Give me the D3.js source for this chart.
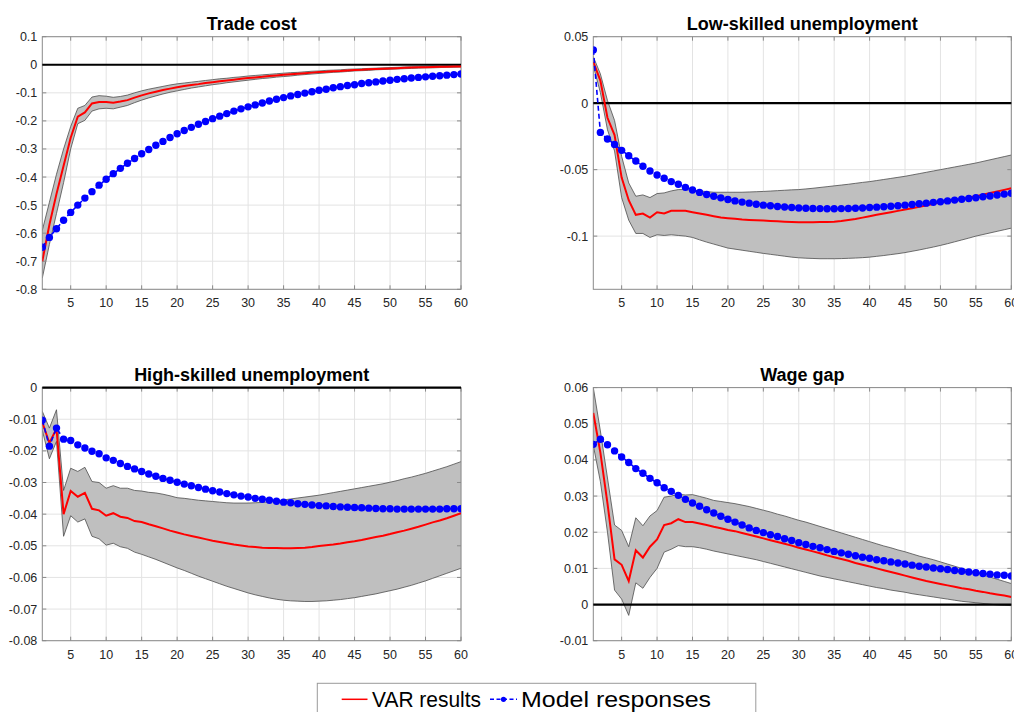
<!DOCTYPE html>
<html>
<head>
<meta charset="utf-8">
<script src="https://cdn.jsdelivr.net/npm/d3@7"></script>
<style>
body { margin: 0; background: #fff; }
text { font-family: "Liberation Sans", Arial, Helvetica, sans-serif; }
</style>
</head>
<body>
<svg id="fig" width="1014" height="712"></svg>
<script>
var periods = d3.range(1, 61);
var xTicks = [5, 10, 15, 20, 25, 30, 35, 40, 45, 50, 55, 60];

// Trade cost
var tradeTicks = [-0.8, -0.7, -0.6, -0.5, -0.4, -0.3, -0.2, -0.1, 0, 0.1];
var tradeVar = [-0.70, -0.57, -0.46, -0.36, -0.26, -0.185, -0.17, -0.138, -0.133, -0.133,
    -0.135, -0.131, -0.126, -0.117, -0.109, -0.102, -0.096, -0.090, -0.085, -0.080,
    -0.076, -0.072, -0.069, -0.065, -0.062, -0.059, -0.056, -0.053, -0.050, -0.047,
    -0.045, -0.043, -0.040, -0.038, -0.036, -0.034, -0.032, -0.030, -0.028, -0.026,
    -0.025, -0.023, -0.022, -0.020, -0.019, -0.018, -0.016, -0.015, -0.014, -0.013,
    -0.012, -0.011, -0.010, -0.009, -0.009, -0.008, -0.007, -0.007, -0.006, -0.006];
var tradeUpper = [-0.59, -0.49, -0.39, -0.30, -0.22, -0.155, -0.145, -0.115, -0.110, -0.112,
    -0.116, -0.113, -0.108, -0.100, -0.093, -0.087, -0.082, -0.077, -0.072, -0.068,
    -0.065, -0.062, -0.059, -0.056, -0.053, -0.050, -0.048, -0.045, -0.043, -0.040,
    -0.038, -0.036, -0.034, -0.032, -0.030, -0.028, -0.027, -0.025, -0.023, -0.022,
    -0.020, -0.019, -0.018, -0.016, -0.015, -0.014, -0.013, -0.012, -0.011, -0.010,
    -0.009, -0.008, -0.007, -0.007, -0.006, -0.005, -0.005, -0.004, -0.004, -0.003];
var tradeLower = [-0.76, -0.64, -0.53, -0.42, -0.30, -0.21, -0.198, -0.165, -0.157, -0.155,
    -0.157, -0.151, -0.145, -0.135, -0.126, -0.118, -0.111, -0.104, -0.098, -0.093,
    -0.088, -0.083, -0.079, -0.075, -0.071, -0.068, -0.064, -0.061, -0.058, -0.055,
    -0.052, -0.049, -0.047, -0.044, -0.042, -0.040, -0.037, -0.035, -0.033, -0.031,
    -0.029, -0.027, -0.026, -0.024, -0.022, -0.021, -0.020, -0.018, -0.017, -0.016,
    -0.015, -0.014, -0.013, -0.012, -0.011, -0.011, -0.010, -0.009, -0.009, -0.008];
var tradeModel = [-0.650, -0.615, -0.584, -0.554, -0.526, -0.500, -0.475, -0.452, -0.429, -0.408,
    -0.388, -0.369, -0.351, -0.334, -0.317, -0.302, -0.287, -0.273, -0.259, -0.246,
    -0.234, -0.223, -0.212, -0.202, -0.192, -0.183, -0.174, -0.165, -0.157, -0.150,
    -0.143, -0.136, -0.129, -0.123, -0.117, -0.111, -0.106, -0.101, -0.096, -0.091,
    -0.087, -0.082, -0.078, -0.074, -0.071, -0.067, -0.064, -0.061, -0.058, -0.055,
    -0.052, -0.050, -0.047, -0.045, -0.043, -0.041, -0.039, -0.037, -0.035, -0.033];

// Low-skilled unemployment
var lowTicks = [-0.1, -0.05, 0, 0.05];
var lowVar = [0.031, 0.017, -0.011, -0.024, -0.056, -0.073, -0.084, -0.083, -0.086, -0.082,
    -0.083, -0.081, -0.081, -0.081, -0.082, -0.083, -0.084, -0.085, -0.086, -0.0865,
    -0.087, -0.0875, -0.0878, -0.088, -0.0883, -0.0886, -0.0889, -0.0892, -0.0894, -0.0895,
    -0.0895, -0.0895, -0.0894, -0.0893, -0.0891, -0.0886, -0.0879, -0.0871, -0.0861, -0.085,
    -0.084, -0.083, -0.082, -0.081, -0.080, -0.079, -0.078, -0.077, -0.0757, -0.0745,
    -0.0737, -0.0728, -0.072, -0.071, -0.070, -0.0688, -0.0676, -0.0664, -0.0652, -0.064];
var lowUpper = [0.035, 0.022, 0.002, -0.013, -0.040, -0.060, -0.070, -0.069, -0.071, -0.068,
    -0.0675, -0.066, -0.065, -0.065, -0.0655, -0.066, -0.0665, -0.067, -0.067, -0.067,
    -0.067, -0.067, -0.0668, -0.0666, -0.0664, -0.0661, -0.0658, -0.0655, -0.0652, -0.065,
    -0.0645, -0.064, -0.0634, -0.0628, -0.0622, -0.0616, -0.061, -0.0603, -0.0596, -0.059,
    -0.0582, -0.0574, -0.0566, -0.0558, -0.055, -0.054, -0.053, -0.052, -0.051, -0.050,
    -0.049, -0.048, -0.047, -0.046, -0.045, -0.0438, -0.0426, -0.0414, -0.0402, -0.039];
var lowLower = [0.028, 0.008, -0.020, -0.036, -0.071, -0.088, -0.098, -0.098, -0.101, -0.099,
    -0.0995, -0.099, -0.0995, -0.100, -0.101, -0.1028, -0.1045, -0.106, -0.1075, -0.109,
    -0.1098, -0.1106, -0.1114, -0.1122, -0.113, -0.1137, -0.1144, -0.1151, -0.1158, -0.1163,
    -0.1166, -0.1168, -0.117, -0.117, -0.117, -0.1169, -0.1167, -0.1165, -0.1162, -0.1158,
    -0.1152, -0.1146, -0.1139, -0.1132, -0.1124, -0.1114, -0.1104, -0.1093, -0.1082, -0.107,
    -0.1057, -0.1043, -0.1029, -0.1015, -0.100, -0.0988, -0.0976, -0.0964, -0.0952, -0.094];
var lowModel = [0.040, -0.022, -0.027, -0.031, -0.0355, -0.0395, -0.0435, -0.0475, -0.051, -0.054,
    -0.0565, -0.059, -0.061, -0.0633, -0.0653, -0.0671, -0.0687, -0.070, -0.0712, -0.0724,
    -0.0735, -0.0744, -0.0752, -0.076, -0.0767, -0.0772, -0.0777, -0.0781, -0.0785, -0.0788,
    -0.079, -0.0792, -0.0793, -0.0794, -0.0794, -0.0793, -0.0792, -0.079, -0.0788, -0.0785,
    -0.0782, -0.0779, -0.0775, -0.0771, -0.0767, -0.0762, -0.0757, -0.0752, -0.0746, -0.0741,
    -0.0735, -0.0729, -0.0723, -0.0717, -0.0711, -0.0704, -0.0698, -0.0691, -0.0684, -0.0677];

// High-skilled unemployment
var highTicks = [-0.08, -0.07, -0.06, -0.05, -0.04, -0.03, -0.02, -0.01, 0];
var highVar = [-0.011, -0.0175, -0.013, -0.040, -0.0327, -0.0345, -0.0333, -0.0383, -0.0388, -0.0405,
    -0.0397, -0.0408, -0.0412, -0.0422, -0.0425, -0.0432, -0.0438, -0.0445, -0.0452, -0.0458,
    -0.0464, -0.0469, -0.0474, -0.0479, -0.0484, -0.0488, -0.0492, -0.0496, -0.0499, -0.0502,
    -0.0504, -0.0506, -0.0507, -0.0507, -0.0508, -0.0508, -0.0507, -0.0506, -0.0504, -0.0501,
    -0.0498, -0.0496, -0.0493, -0.0489, -0.0486, -0.0482, -0.0477, -0.0472, -0.0468, -0.0463,
    -0.0457, -0.0452, -0.0446, -0.044, -0.0433, -0.0426, -0.042, -0.0413, -0.0405, -0.0397];
var highUpper = [-0.0075, -0.0128, -0.007, -0.0325, -0.0255, -0.0265, -0.0252, -0.0297, -0.030, -0.0318,
    -0.031, -0.0318, -0.0318, -0.0325, -0.0327, -0.0331, -0.0333, -0.0337, -0.0342, -0.0348,
    -0.035, -0.0353, -0.0356, -0.0358, -0.036, -0.0362, -0.0364, -0.0365, -0.0365, -0.0365,
    -0.0364, -0.0363, -0.0361, -0.0358, -0.0355, -0.0352, -0.0349, -0.0346, -0.0343, -0.034,
    -0.0336, -0.0332, -0.0328, -0.0324, -0.032, -0.0316, -0.0312, -0.0308, -0.0304, -0.0299,
    -0.0294, -0.0288, -0.0283, -0.0277, -0.0271, -0.0264, -0.0257, -0.025, -0.0242, -0.0234];
var highLower = [-0.0135, -0.0225, -0.017, -0.047, -0.0405, -0.0425, -0.0415, -0.047, -0.0478, -0.0498,
    -0.0492, -0.0503, -0.0508, -0.052, -0.0527, -0.0535, -0.0543, -0.0552, -0.0561, -0.057,
    -0.0578, -0.0587, -0.0596, -0.0604, -0.0612, -0.062, -0.0628, -0.0635, -0.0642, -0.0649,
    -0.0655, -0.066, -0.0665, -0.0669, -0.0672, -0.0674, -0.0675, -0.0676, -0.0676, -0.0675,
    -0.0674, -0.0672, -0.067, -0.0667, -0.0664, -0.066, -0.0656, -0.0652, -0.0647, -0.0642,
    -0.0637, -0.0631, -0.0625, -0.0618, -0.0611, -0.0603, -0.0595, -0.0587, -0.0579, -0.0571];
var highModel = [-0.0103, -0.0185, -0.0128, -0.0163, -0.0167, -0.0181, -0.0191, -0.0201, -0.0209, -0.0222,
    -0.023, -0.024, -0.0249, -0.0257, -0.0265, -0.0273, -0.028, -0.0287, -0.0293, -0.0299,
    -0.0305, -0.031, -0.0316, -0.0321, -0.0326, -0.033, -0.0335, -0.0339, -0.0343, -0.0346,
    -0.035, -0.0353, -0.0356, -0.0359, -0.0362, -0.0364, -0.0367, -0.0369, -0.0371, -0.0373,
    -0.0374, -0.0376, -0.0377, -0.0378, -0.0379, -0.038, -0.0381, -0.0382, -0.0383, -0.0383,
    -0.0384, -0.0384, -0.0384, -0.0384, -0.0384, -0.0384, -0.0384, -0.0383, -0.0383, -0.0383];

// Wage gap
var wageTicks = [-0.01, 0, 0.01, 0.02, 0.03, 0.04, 0.05, 0.06];
var wageVar = [0.053, 0.042, 0.028, 0.0125, 0.011, 0.0065, 0.015, 0.013, 0.016, 0.018,
    0.022, 0.0225, 0.0236, 0.0228, 0.0228, 0.0224, 0.022, 0.0215, 0.0211, 0.0206,
    0.0203, 0.0198, 0.0193, 0.0188, 0.0183, 0.0178, 0.0173, 0.0168, 0.0163, 0.0157,
    0.0152, 0.0147, 0.0142, 0.0136, 0.0131, 0.0126, 0.0121, 0.0115, 0.011, 0.0105,
    0.010, 0.0095, 0.009, 0.0085, 0.008, 0.0075, 0.007, 0.0065, 0.0061, 0.0057,
    0.0053, 0.0049, 0.0045, 0.0042, 0.0038, 0.0035, 0.0031, 0.0028, 0.0025, 0.0021];
var wageUpper = [0.060, 0.048, 0.035, 0.022, 0.0205, 0.016, 0.024, 0.0218, 0.0245, 0.026,
    0.0297, 0.030, 0.0305, 0.0303, 0.0304, 0.0299, 0.0294, 0.0288, 0.0285, 0.0282,
    0.0279, 0.0275, 0.0271, 0.0266, 0.0261, 0.0256, 0.025, 0.0245, 0.0239, 0.0233,
    0.0228, 0.0222, 0.0216, 0.021, 0.0204, 0.0198, 0.0192, 0.0186, 0.018, 0.0174,
    0.0168, 0.0162, 0.0157, 0.0151, 0.0146, 0.014, 0.0134, 0.0129, 0.0124, 0.0118,
    0.0112, 0.0106, 0.010, 0.0094, 0.0088, 0.0082, 0.0076, 0.007, 0.0064, 0.0058];
var wageLower = [0.044, 0.034, 0.020, 0.004, 0.0015, -0.003, 0.006, 0.0045, 0.0075, 0.010,
    0.0145, 0.0153, 0.0163, 0.016, 0.016, 0.0157, 0.0153, 0.0148, 0.0144, 0.014,
    0.0136, 0.0132, 0.0128, 0.0124, 0.0119, 0.0114, 0.0109, 0.0104, 0.0099, 0.0094,
    0.0089, 0.0084, 0.0079, 0.0075, 0.0071, 0.0067, 0.0063, 0.0059, 0.0055, 0.0051,
    0.0047, 0.0044, 0.004, 0.0037, 0.0034, 0.003, 0.0027, 0.0024, 0.0021, 0.0018,
    0.0015, 0.0012, 0.0009, 0.0007, 0.0005, 0.0003, 0.0001, -0.0001, -0.0002, -0.0003];
var wageModel = [0.0443, 0.0457, 0.0442, 0.0425, 0.0408, 0.0393, 0.0376, 0.0363, 0.0349, 0.0337,
    0.0323, 0.0313, 0.0302, 0.0291, 0.0281, 0.0272, 0.0262, 0.0253, 0.0244, 0.0236,
    0.0228, 0.022, 0.0212, 0.0205, 0.0199, 0.0193, 0.0188, 0.0182, 0.0177, 0.0171,
    0.0166, 0.0161, 0.0157, 0.0152, 0.0147, 0.0143, 0.0139, 0.0135, 0.0131, 0.0128,
    0.0124, 0.0121, 0.0118, 0.0115, 0.0112, 0.0109, 0.0106, 0.0104, 0.0101, 0.0099,
    0.0097, 0.0094, 0.0092, 0.009, 0.0088, 0.0086, 0.0084, 0.0082, 0.0081, 0.0079];

var legendLabels = ["VAR results", "Model responses"];

var panels = [
    {id: "p1", title: "Trade cost", varResp: tradeVar, upper: tradeUpper, lower: tradeLower, model: tradeModel,
        yDomain: [-0.8, 0.1], yTicks: tradeTicks, left: 42.3, right: 461, top: 36.7, bottom: 289.3},
    {id: "p2", title: "Low-skilled unemployment", varResp: lowVar, upper: lowUpper, lower: lowLower, model: lowModel,
        yDomain: [-0.14, 0.05], yTicks: lowTicks, left: 593.3, right: 1011.3, top: 36.7, bottom: 289.3},
    {id: "p3", title: "High-skilled unemployment", varResp: highVar, upper: highUpper, lower: highLower, model: highModel,
        yDomain: [-0.08, 0], yTicks: highTicks, left: 42.3, right: 461, top: 387.6, bottom: 640.7},
    {id: "p4", title: "Wage gap", varResp: wageVar, upper: wageUpper, lower: wageLower, model: wageModel,
        yDomain: [-0.01, 0.06], yTicks: wageTicks, left: 593.3, right: 1011.3, top: 387.6, bottom: 640.7}
];

var svg = d3.select("#fig");

function fmtTick(v) {
    if (Math.abs(v) < 1e-9) return "0";
    return String(+v.toFixed(3));
}

function drawPanel(p) {
    var x = d3.scaleLinear().domain([1, 60]).range([p.left, p.right]);
    var y = d3.scaleLinear().domain(p.yDomain).range([p.bottom, p.top]);
    var g = svg.append("g").attr("id", p.id);

    g.append("clipPath").attr("id", "clip_" + p.id)
        .append("rect")
        .attr("x", p.left).attr("y", p.top - 1)
        .attr("width", p.right - p.left).attr("height", p.bottom - p.top + 2);

    //grid
    g.selectAll(".gx").data(xTicks).enter().append("line")
        .attr("x1", d => x(d)).attr("x2", d => x(d))
        .attr("y1", p.top).attr("y2", p.bottom)
        .attr("stroke", "#e3e3e3").attr("stroke-width", 1);
    g.selectAll(".gy").data(p.yTicks).enter().append("line")
        .attr("x1", p.left).attr("x2", p.right)
        .attr("y1", d => y(d)).attr("y2", d => y(d))
        .attr("stroke", "#e3e3e3").attr("stroke-width", 1);

    var plot = g.append("g").attr("clip-path", "url(#clip_" + p.id + ")");

    // confidence band
    var area = d3.area()
        .x((d, i) => x(periods[i]))
        .y0((d, i) => y(p.lower[i]))
        .y1((d, i) => y(p.upper[i]));
    plot.append("path").datum(periods).attr("d", area)
        .attr("fill", "#bfbfbf").attr("stroke", "none");

    var edge = d3.line().x((d, i) => x(periods[i])).y(d => y(d));
    plot.append("path").datum(p.upper).attr("d", edge)
        .attr("fill", "none").attr("stroke", "#4d4d4d").attr("stroke-width", 0.8);
    plot.append("path").datum(p.lower).attr("d", edge)
        .attr("fill", "none").attr("stroke", "#4d4d4d").attr("stroke-width", 0.8);

    // box + inward ticks
    g.append("rect")
        .attr("x", p.left).attr("y", p.top)
        .attr("width", p.right - p.left).attr("height", p.bottom - p.top)
        .attr("fill", "none").attr("stroke", "#8a8a8a").attr("stroke-width", 1);
    var tl = 4;
    xTicks.forEach(function(t) {
        g.append("line").attr("x1", x(t)).attr("x2", x(t)).attr("y1", p.bottom).attr("y2", p.bottom - tl)
            .attr("stroke", "#8a8a8a");
        g.append("line").attr("x1", x(t)).attr("x2", x(t)).attr("y1", p.top).attr("y2", p.top + tl)
            .attr("stroke", "#8a8a8a");
    });
    p.yTicks.forEach(function(t) {
        g.append("line").attr("x1", p.left).attr("x2", p.left + tl).attr("y1", y(t)).attr("y2", y(t))
            .attr("stroke", "#8a8a8a");
        g.append("line").attr("x1", p.right).attr("x2", p.right - tl).attr("y1", y(t)).attr("y2", y(t))
            .attr("stroke", "#8a8a8a");
    });

    // zero line (drawn over the box so it stays black on the top edge)
    g.append("line")
        .attr("x1", x(1)).attr("x2", x(60))
        .attr("y1", y(0)).attr("y2", y(0))
        .attr("stroke", "#000").attr("stroke-width", 2.2);

    var marks = g.append("g").attr("clip-path", "url(#clip_" + p.id + ")");
    marks.append("path").datum(p.varResp).attr("d", edge)
        .attr("fill", "none").attr("stroke", "#ff0000").attr("stroke-width", 2);

    marks.append("path").datum(p.model).attr("d", edge)
        .attr("fill", "none").attr("stroke", "#0000ff").attr("stroke-width", 1.6)
        .attr("stroke-dasharray", "5,3");
    marks.selectAll(".dot").data(p.model).enter().append("circle")
        .attr("cx", (d, i) => x(periods[i])).attr("cy", d => y(d))
        .attr("r", 3.7).attr("fill", "#0000ff");

    // tick labels
    g.selectAll(".xl").data(xTicks).enter().append("text")
        .attr("x", d => x(d)).attr("y", p.bottom + 18)
        .attr("text-anchor", "middle").attr("font-size", 12.5).attr("fill", "#262626")
        .text(d => d);
    g.selectAll(".yl").data(p.yTicks).enter().append("text")
        .attr("x", p.left - 5).attr("y", d => y(d)).attr("dy", "0.36em")
        .attr("text-anchor", "end").attr("font-size", 12.5).attr("fill", "#262626")
        .text(d => fmtTick(d));

    // title
    g.append("text")
        .attr("x", (p.left + p.right) / 2).attr("y", p.top - 7)
        .attr("text-anchor", "middle").attr("font-size", 18).attr("font-weight", "bold")
        .attr("fill", "#000")
        .text(p.title);
}

panels.forEach(drawPanel);

// legend
var leg = svg.append("g").attr("id", "legend");
leg.append("rect").attr("x", 317.3).attr("y", 683.3).attr("width", 438.5).attr("height", 40)
    .attr("fill", "#fff").attr("stroke", "#9a9a9a").attr("stroke-width", 1);
leg.append("line").attr("x1", 341.7).attr("x2", 367.5).attr("y1", 699.3).attr("y2", 699.3)
    .attr("stroke", "#ff0000").attr("stroke-width", 1.5);
leg.append("text").attr("x", 372).attr("y", 706.5).attr("font-size", 22)
    .attr("textLength", 109).attr("lengthAdjust", "spacingAndGlyphs")
    .attr("fill", "#000").text(legendLabels[0]);
leg.append("line").attr("x1", 490).attr("x2", 517).attr("y1", 699.3).attr("y2", 699.3)
    .attr("stroke", "#0000ff").attr("stroke-width", 1.5).attr("stroke-dasharray", "4,2.5");
leg.append("circle").attr("cx", 503.5).attr("cy", 699.3).attr("r", 2.6).attr("fill", "#0000ff");
leg.append("text").attr("x", 521).attr("y", 706.5).attr("font-size", 22)
    .attr("textLength", 190).attr("lengthAdjust", "spacingAndGlyphs")
    .attr("fill", "#000").text(legendLabels[1]);
</script>
</body>
</html>
